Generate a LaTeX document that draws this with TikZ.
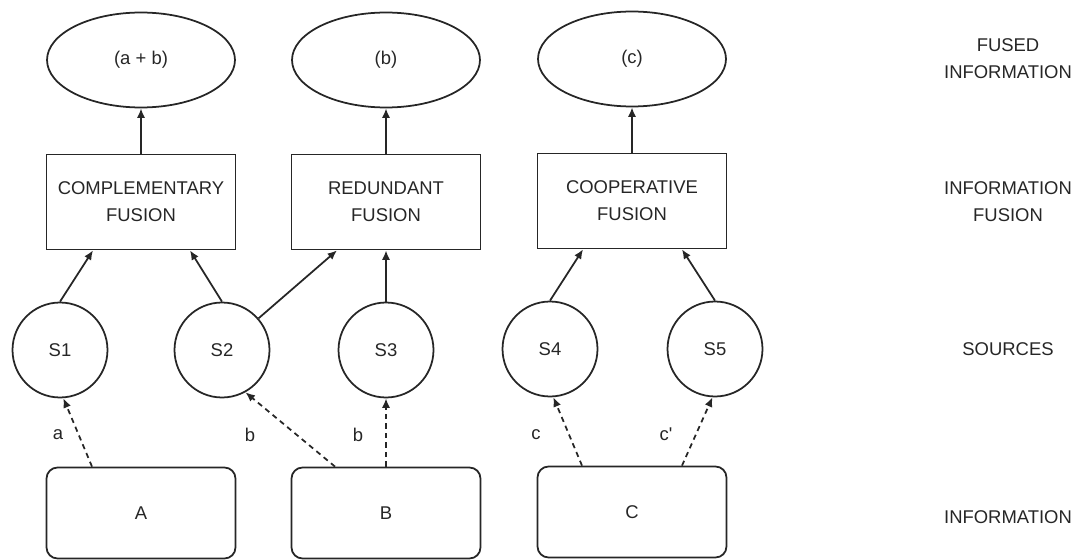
\documentclass[tikz,border=0pt]{standalone}
\usepackage{fontspec}
\setmainfont{Liberation Sans}
\usetikzlibrary{arrows.meta,shapes.geometric,calc}

\tikzset{
  every node/.style={font=\fontsize{10.5}{15.5}\selectfont, text=black!85},
  line/.style={line width=1pt, draw=black!85},
  fusedinfo/.style={line, ellipse, minimum width=3.76cm, minimum height=1.9cm, inner sep=0pt},
  fusionbox/.style={line, rectangle, minimum width=3.78cm, minimum height=1.9cm, align=center, inner sep=0pt},
  source/.style={line, circle, minimum size=1.9cm, inner sep=0pt},
  infobox/.style={line, rectangle, rounded corners=0.22cm, minimum width=3.78cm, minimum height=1.82cm, inner sep=0pt},
  levellabel/.style={align=center},
  edgelabel/.style={inner sep=0pt},
  flow/.style={line, -{Latex[length=5.4pt,width=4.6pt]}},
  feed/.style={flow, dash pattern=on 3pt off 2.4pt},
}

\begin{document}
\begin{tikzpicture}[x=0.02cm, y=-0.02cm]
  \useasboundingbox (0,0) rectangle (1087,560);

  % fused information
  \node[fusedinfo] (e1) at (141,60) {(a + b)};
  \node[fusedinfo] (e2) at (386,60) {(b)};
  \node[fusedinfo] (e3) at (632,59) {(c)};

  % fusion stages
  \node[fusionbox] (f1) at (141,202) {COMPLEMENTARY\\FUSION};
  \node[fusionbox] (f2) at (386,202) {REDUNDANT\\FUSION};
  \node[fusionbox] (f3) at (632,201) {COOPERATIVE\\FUSION};

  % sources
  \node[source] (s1) at (60,350) {S1};
  \node[source] (s2) at (222,350) {S2};
  \node[source] (s3) at (386,350) {S3};
  \node[source] (s4) at (550,349) {S4};
  \node[source] (s5) at (715,349) {S5};

  % information
  \node[infobox] (ia) at (141,513) {A};
  \node[infobox] (ib) at (386,513) {B};
  \node[infobox] (ic) at (632,512) {C};

  % level labels
  \node[levellabel] (lf) at (1008,59) {FUSED\\INFORMATION};
  \node[levellabel] (lfu) at (1008,202) {INFORMATION\\FUSION};
  \node[levellabel] (ls) at (1008,349) {SOURCES};
  \node[levellabel] (li) at (1008,517) {INFORMATION};

  % fusion -> fused information
  \draw[flow] (f1.north) -- (e1.south);
  \draw[flow] (f2.north) -- (e2.south);
  \draw[flow] (f3.north) -- (e3.south);

  % sources -> fusion
  \draw[flow] (s1.north) -- ([xshift=-0.96cm]f1.south);
  \draw[flow] (s2.north) -- ([xshift=0.98cm]f1.south);
  \draw[flow] (s2) -- ([xshift=-0.98cm]f2.south);
  \draw[flow] (s3.north) -- (f2.south);
  \draw[flow] (s4.north) -- ([xshift=-0.98cm]f3.south);
  \draw[flow] (s5.north) -- ([xshift=1.0cm]f3.south);

  % information -> sources
  \draw[feed] ([xshift=-0.98cm]ia.north) -- (s1.-86);
  \draw[feed] ([xshift=-1.02cm]ib.north) -- (s2.-61);
  \draw[feed] (ib.north) -- (s3.south);
  \draw[feed] ([xshift=-1.0cm]ic.north) -- (s4.-86);
  \draw[feed] ([xshift=1.0cm]ic.north) -- (s5.-93);

  % feed labels
  \node[edgelabel] (la) at (58,435) {a};
  \node[edgelabel] (lb1) at (250,435) {b};
  \node[edgelabel] (lb2) at (358,435) {b};
  \node[edgelabel] (lc1) at (536,435) {c};
  \node[edgelabel] (lc2) at (666,434) {c\textquotesingle};
\end{tikzpicture}
\end{document}
